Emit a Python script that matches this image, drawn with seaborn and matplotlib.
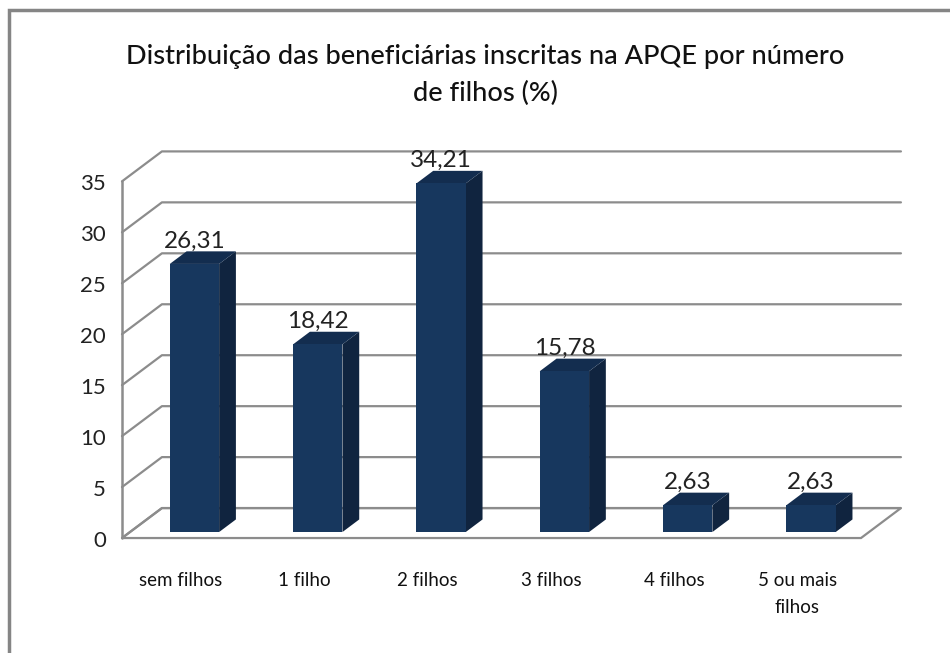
import matplotlib
matplotlib.use("Agg")
import matplotlib.pyplot as plt
import seaborn as sns
from matplotlib.patches import Polygon, Rectangle

categories = ["sem filhos", "1 filho", "2 filhos", "3 filhos", "4 filhos", "5 ou mais\nfilhos"]
values = [26.31, 18.42, 34.21, 15.78, 2.63, 2.63]
value_labels = ["26,31", "18,42", "34,21", "15,78", "2,63", "2,63"]
y_ticks = [0, 5, 10, 15, 20, 25, 30, 35]
title = "Distribuição das beneficiárias inscritas na APQE por número\nde filhos (%)"

FRONT = "#17375E"
SIDE = "#10243F"
TOP = "#132D4F"
GRID = "#8C8C8C"

# depth vector in data units (one full depth of the box)
DX, DY = 0.324, 2.94
T_FRONT, T_BACK = -0.2, 0.8
BAR_DEPTH = 0.42
XL, XR = -0.523, 5.47
BAR_W = 0.4


def main():
    sns.set_style("white")
    plt.rcParams["font.family"] = ["Lato", "DejaVu Sans"]

    fig = plt.figure(figsize=(9.5, 6.53), dpi=100)
    ax = fig.add_axes([0, 0, 1, 1])

    def pt(x, y, t):
        return (x + t * DX, y + t * DY)

    # floor
    floor = [pt(XL, 0, T_FRONT), pt(XR, 0, T_FRONT), pt(XR, 0, T_BACK), pt(XL, 0, T_BACK)]
    ax.add_patch(Polygon(floor, closed=True, fill=False, edgecolor=GRID, lw=1.6, zorder=1))

    # gridlines: back wall + left wall diagonals
    for v in y_ticks:
        xs, ys = zip(pt(XL, v, T_FRONT), pt(XL, v, T_BACK), pt(XR, v, T_BACK))
        ax.plot(xs, ys, color=GRID, lw=1.6, zorder=1)
    # left front axis line
    x0, y0 = pt(XL, 0, T_FRONT)
    ax.plot([x0, x0], [y0, y0 + 35], color=GRID, lw=1.8, zorder=1)

    # bars (front faces)
    sns.barplot(x=categories, y=values, width=BAR_W, color=FRONT, saturation=1,
                ax=ax, zorder=3, linewidth=0)

    # 3D side and top faces from the same values
    for i, v in enumerate(values):
        xl, xr = i - BAR_W / 2, i + BAR_W / 2
        side = [pt(xr, 0, 0), pt(xr, 0, BAR_DEPTH), pt(xr, v, BAR_DEPTH), pt(xr, v, 0)]
        top = [pt(xl, v, 0), pt(xr, v, 0), pt(xr, v, BAR_DEPTH), pt(xl, v, BAR_DEPTH)]
        ax.add_patch(Polygon(side, closed=True, facecolor=SIDE, edgecolor="none", zorder=2))
        ax.add_patch(Polygon(top, closed=True, facecolor=TOP, edgecolor="none", zorder=2))
        lx, ly = pt(i, v, BAR_DEPTH / 2)
        ax.text(i, ly + 0.6, value_labels[i], ha="center", va="bottom",
                fontsize=17.5, color="#222222", zorder=4)

    # y tick labels
    for v in y_ticks:
        ax.text(x0 - 0.13, y0 + v - 0.25, str(v), ha="right", va="center",
                fontsize=16, color="#222222")

    # x labels
    for i, c in enumerate(categories):
        ax.text(i - 0.11, -3.9, c, ha="center", va="top", fontsize=13.5,
                color="#111111", linespacing=1.75)

    ax.set_xlim(-1.577, 6.127)
    ax.set_ylim(-11.87, 52.21)
    ax.axis("off")

    ax.text(2.356, 44.85, title, ha="center", va="center", fontsize=19.5,
            linespacing=1.6, color="#111111", fontweight="medium")

    # outer chart border
    fig.patches.append(Rectangle((9 / 950, -0.1), 1.2, 1 - 10 / 653 + 0.1,
                                 transform=fig.transFigure, fill=False,
                                 edgecolor="#858585", lw=2.5))

    fig.savefig("out.png", dpi=100)


if __name__ == "__main__":
    main()
